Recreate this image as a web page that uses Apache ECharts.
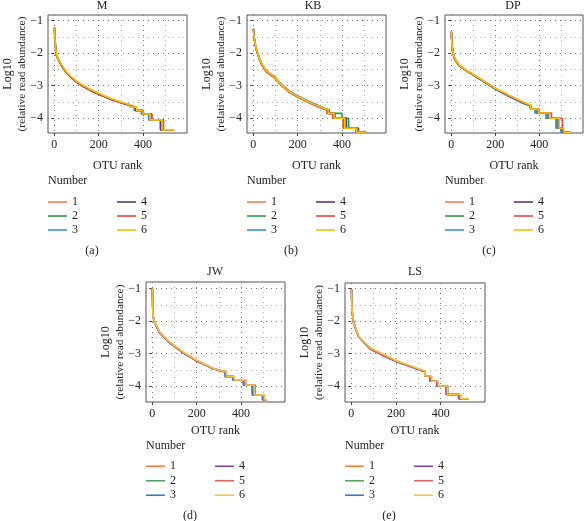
<!DOCTYPE html>
<html><head><meta charset="utf-8">
<script src="https://cdn.jsdelivr.net/npm/echarts@6/dist/echarts.min.js"></script>
<style>html,body{margin:0;padding:0;background:#fff}#c{width:584px;height:521px}</style>
</head><body><div id="c"></div>
<script>
const FONT = 'Liberation Serif';
const seriesNames = ['1','2','3','4','5','6'];
const panelTitles = ['M','KB','DP','JW','LS'];
const captions = ['(a)','(b)','(c)','(d)','(e)'];
const xTickValues = [0,200,400];
const xMinorValues = [100,300,500];
const yTickValues = [-4,-3,-2,-1];
const yMinorValues = [-4.5,-3.5,-2.5,-1.5];
const colorsTop = ['#F07D4E','#2F9B45','#3D8BDD','#5A3C7C','#E6453B','#F6C400'];
const colorsBottom = ['#F47E32','#55A364','#3F72C9','#8645A3','#E26566','#F2C443'];

// ---- Panel M ----
const M_rank = [1,3,6,10,20,35,55,80,100,130,160,200,250,300,340];
const M_v1 = [-1.21,-1.52,-1.85,-2.07,-2.21,-2.40,-2.58,-2.75,-2.87,-3.00,-3.11,-3.24,-3.39,-3.51,-3.59];
const M_v2 = [-1.22,-1.49,-1.80,-2.05,-2.21,-2.39,-2.59,-2.76,-2.87,-3.01,-3.12,-3.25,-3.39,-3.52,-3.59];
const M_v3 = [-1.19,-1.51,-1.83,-2.07,-2.22,-2.40,-2.60,-2.77,-2.89,-3.02,-3.13,-3.26,-3.41,-3.53,-3.60];
const M_v4 = [-1.21,-1.53,-1.84,-2.08,-2.22,-2.41,-2.60,-2.76,-2.88,-3.02,-3.13,-3.26,-3.40,-3.52,-3.59];
const M_v5 = [-1.20,-1.51,-1.83,-2.07,-2.21,-2.40,-2.59,-2.76,-2.88,-3.01,-3.12,-3.25,-3.40,-3.52,-3.60];
const M_v6 = [-1.20,-1.50,-1.82,-2.06,-2.20,-2.38,-2.57,-2.74,-2.86,-2.99,-3.10,-3.23,-3.38,-3.50,-3.58];
const M_levels = [-3.66,-3.76,-3.87,-4.05,-4.36];
const M_d1 = [368,395,428,490,538];
const M_d2 = [365,400,435,488,536];
const M_d3 = [360,392,425,480,534];
const M_d4 = [366,396,438,478,537];
const M_d5 = [370,402,440,492,541];
const M_d6 = [372,398,432,486,540];

// ---- Panel KB ----
const KB_rank = [1,5,10,18,30,41,60,94,125,162,200,245,290,320];
const KB_v1 = [-1.26,-1.56,-1.76,-1.96,-2.21,-2.37,-2.56,-2.73,-2.97,-3.19,-3.34,-3.49,-3.63,-3.71];
const KB_v2 = [-1.24,-1.54,-1.77,-1.97,-2.22,-2.38,-2.57,-2.70,-2.95,-3.17,-3.32,-3.47,-3.61,-3.70];
const KB_v3 = [-1.25,-1.57,-1.78,-1.96,-2.20,-2.36,-2.54,-2.71,-2.94,-3.16,-3.31,-3.46,-3.60,-3.69];
const KB_v4 = [-1.27,-1.55,-1.76,-1.97,-2.21,-2.38,-2.56,-2.74,-2.97,-3.19,-3.34,-3.49,-3.63,-3.72];
const KB_v5 = [-1.26,-1.56,-1.77,-1.98,-2.23,-2.39,-2.58,-2.75,-2.98,-3.20,-3.35,-3.50,-3.64,-3.72];
const KB_v6 = [-1.25,-1.55,-1.75,-1.95,-2.20,-2.36,-2.55,-2.72,-2.96,-3.18,-3.33,-3.48,-3.62,-3.70];
const KB_levels = [-3.74,-3.85,-4.00,-4.31,-4.43];
const KB_d1 = [336,362,418,470,504];
const KB_d2 = [342,400,430,472,508];
const KB_d3 = [334,360,408,462,500];
const KB_d4 = [340,368,420,474,505];
const KB_d5 = [332,358,405,468,503];
const KB_d6 = [338,365,412,466,506];

// ---- Panel DP ----
const DP_rank = [1,3,7,15,35,80,141,201,262,322,360];
const DP_v1 = [-1.35,-1.66,-1.96,-2.16,-2.37,-2.58,-2.83,-3.09,-3.30,-3.50,-3.61];
const DP_v2 = [-1.33,-1.64,-1.94,-2.15,-2.37,-2.58,-2.84,-3.10,-3.32,-3.52,-3.62];
const DP_v3 = [-1.34,-1.66,-1.96,-2.17,-2.38,-2.59,-2.85,-3.11,-3.33,-3.53,-3.63];
const DP_v4 = [-1.35,-1.65,-1.95,-2.16,-2.37,-2.58,-2.83,-3.09,-3.31,-3.51,-3.62];
const DP_v5 = [-1.34,-1.65,-1.96,-2.16,-2.37,-2.58,-2.83,-3.09,-3.30,-3.50,-3.61];
const DP_v6 = [-1.34,-1.65,-1.95,-2.15,-2.36,-2.57,-2.82,-3.08,-3.29,-3.49,-3.60];
const DP_levels = [-3.72,-3.84,-4.00,-4.31,-4.43];
const DP_d1 = [390,440,485,505,540];
const DP_d2 = [385,435,480,500,538];
const DP_d3 = [380,430,475,498,536];
const DP_d4 = [392,442,488,506,539];
const DP_d5 = [398,455,505,512,541];
const DP_d6 = [395,445,490,510,542];

// ---- Panel JW ----
const JW_rank = [1,3,10,33,78,139,200,275,310];
const JW_v1 = [-1.00,-1.83,-2.03,-2.34,-2.65,-2.96,-3.21,-3.46,-3.53];
const JW_v2 = [-1.01,-1.81,-2.02,-2.35,-2.66,-2.97,-3.22,-3.47,-3.54];
const JW_v3 = [-1.00,-1.82,-2.04,-2.36,-2.67,-2.98,-3.23,-3.47,-3.54];
const JW_v4 = [-1.01,-1.83,-2.03,-2.35,-2.66,-2.97,-3.22,-3.46,-3.53];
const JW_v5 = [-1.00,-1.82,-2.03,-2.35,-2.66,-2.97,-3.22,-3.47,-3.54];
const JW_v6 = [-1.00,-1.82,-2.02,-2.33,-2.64,-2.95,-3.20,-3.45,-3.52];
const JW_levels = [-3.56,-3.71,-3.81,-3.97,-4.27,-4.42];
const JW_d1 = [332,366,416,456,500,515];
const JW_d2 = [330,364,414,452,498,514];
const JW_d3 = [328,362,410,450,496,512];
const JW_d4 = [333,368,418,462,502,516];
const JW_d5 = [334,369,422,464,504,517];
const JW_d6 = [335,370,420,460,505,518];

// ---- Panel LS ----
const LS_rank = [1,3,11,33,86,147,208,268,329];
const LS_v1 = [-1.03,-1.66,-2.07,-2.48,-2.85,-3.05,-3.25,-3.39,-3.55];
const LS_v2 = [-1.04,-1.65,-2.06,-2.48,-2.84,-3.04,-3.25,-3.40,-3.55];
const LS_v3 = [-1.03,-1.67,-2.08,-2.49,-2.86,-3.06,-3.26,-3.40,-3.56];
const LS_v4 = [-1.03,-1.66,-2.07,-2.49,-2.87,-3.08,-3.27,-3.41,-3.56];
const LS_v5 = [-1.04,-1.66,-2.07,-2.48,-2.86,-3.07,-3.26,-3.40,-3.55];
const LS_v6 = [-1.03,-1.65,-2.06,-2.47,-2.83,-3.03,-3.24,-3.38,-3.54];
const LS_levels = [-3.69,-3.85,-4.00,-4.26,-4.39];
const LS_d1 = [356,386,428,486,524];
const LS_d2 = [358,388,432,488,525];
const LS_d3 = [354,384,426,482,522];
const LS_d4 = [352,382,424,480,520];
const LS_d5 = [355,385,430,484,523];
const LS_d6 = [360,390,430,490,526];

const panels = [
  {rank:M_rank, vals:[M_v1,M_v2,M_v3,M_v4,M_v5,M_v6], levels:M_levels, drops:[M_d1,M_d2,M_d3,M_d4,M_d5,M_d6]},
  {rank:KB_rank, vals:[KB_v1,KB_v2,KB_v3,KB_v4,KB_v5,KB_v6], levels:KB_levels, drops:[KB_d1,KB_d2,KB_d3,KB_d4,KB_d5,KB_d6]},
  {rank:DP_rank, vals:[DP_v1,DP_v2,DP_v3,DP_v4,DP_v5,DP_v6], levels:DP_levels, drops:[DP_d1,DP_d2,DP_d3,DP_d4,DP_d5,DP_d6]},
  {rank:JW_rank, vals:[JW_v1,JW_v2,JW_v3,JW_v4,JW_v5,JW_v6], levels:JW_levels, drops:[JW_d1,JW_d2,JW_d3,JW_d4,JW_d5,JW_d6]},
  {rank:LS_rank, vals:[LS_v1,LS_v2,LS_v3,LS_v4,LS_v5,LS_v6], levels:LS_levels, drops:[LS_d1,LS_d2,LS_d3,LS_d4,LS_d5,LS_d6]}
];

// layout (pixels)
const boxes = [
  {l:48, t:15, w:139, h:118, ymin:-4.455, ymax:-0.825},
  {l:247, t:15, w:139, h:118, ymin:-4.455, ymax:-0.825},
  {l:445, t:15, w:138, h:118, ymin:-4.455, ymax:-0.825},
  {l:146, t:282, w:139, h:120, ymin:-4.49, ymax:-0.80},
  {l:345, t:283, w:140, h:119, ymin:-4.49, ymax:-0.83}
];
const titleX = [102, 313, 513, 215, 415];
const XMIN = -28, XMAX = 598;

function buildLine(rank, vals, levels, drops) {
  const pts = rank.map((r, i) => [r, vals[i]]);
  let start = rank[rank.length - 1];
  levels.forEach((L, i) => { pts.push([start, L]); pts.push([drops[i], L]); start = drops[i]; });
  return pts;
}
const minusFmt = v => (v < 0 ? '\u2212' + (-v) : String(v));
const txt = {fontFamily: FONT, fontSize: 12, color: '#222'};

const grid = [], xAxis = [], yAxis = [], series = [], legend = [], graphic = [];
boxes.forEach((b, p) => {
  grid.push({left: b.l, top: b.t, width: b.w, height: b.h, show: true, borderColor: '#555', borderWidth: 1, backgroundColor: 'transparent'});
  xAxis.push({type: 'value', gridIndex: p, min: XMIN, max: XMAX,
    axisLine: {show: false},
    axisTick: {show: true, length: 3, customValues: xTickValues, lineStyle: {color: '#444'}},
    axisLabel: {customValues: xTickValues, margin: 6, ...txt},
    splitLine: {show: true, lineStyle: {color: '#777', width: 1, type: [1, 4]}}});
  yAxis.push({type: 'value', gridIndex: p, min: b.ymin, max: b.ymax,
    axisLine: {show: false},
    axisTick: {show: true, length: 3, customValues: yTickValues, lineStyle: {color: '#444'}},
    axisLabel: {customValues: yTickValues, margin: 5, formatter: minusFmt, ...txt},
    splitLine: {show: true, lineStyle: {color: '#777', width: 1, type: [1, 4]}}});
  xAxis.push({type: 'value', gridIndex: p, min: XMIN, max: XMAX,
    axisLine: {show: false}, axisLabel: {show: false},
    axisTick: {show: false, customValues: xMinorValues},
    splitLine: {show: true, lineStyle: {color: '#aaa', width: 1, type: [1, 4]}}});
  yAxis.push({type: 'value', gridIndex: p, min: b.ymin, max: b.ymax,
    axisLine: {show: false}, axisLabel: {show: false},
    axisTick: {show: false, customValues: yMinorValues},
    splitLine: {show: true, lineStyle: {color: '#aaa', width: 1, type: [1, 4]}}});

  const pal = p < 3 ? colorsTop : colorsBottom;
  const P = panels[p];
  seriesNames.forEach((nm, s) => {
    series.push({type: 'line', name: nm, xAxisIndex: 2 * p, yAxisIndex: 2 * p,
      data: buildLine(P.rank, P.vals[s], P.levels, P.drops[s]),
      showSymbol: false, symbol: 'none', silent: true, animation: false,
      lineStyle: {width: 1.6, color: pal[s]}, itemStyle: {color: pal[s]}, z: 2 + s});
  });

  const top = p < 3 ? 195 : 459;
  const rowH = p < 3 ? 14 : 14.5;
  [0, 1].forEach(c => {
    legend.push({left: b.l + c * 69, top: top, orient: 'vertical', padding: 0, itemGap: 0,
      itemWidth: 19, itemHeight: 1.6, icon: 'rect', itemTextGap: 7, selectedMode: false,
      textStyle: {...txt, lineHeight: rowH},
      data: seriesNames.slice(c * 3, c * 3 + 3).map((nm, k) => ({name: nm, itemStyle: {color: pal[c * 3 + k]}}))});
  });

  const cx = b.l + b.w / 2, cy = b.t + b.h / 2;
  const tY = p < 3 ? 6 : 272;
  graphic.push({type: 'text', x: titleX[p], y: tY, style: {text: panelTitles[p], align: 'center', verticalAlign: 'middle', font: '12px ' + FONT, fill: '#222'}});
  graphic.push({type: 'text', x: cx, y: b.t + b.h + (p < 3 ? 32.5 : 29), style: {text: 'OTU rank', align: 'center', verticalAlign: 'middle', font: '12px ' + FONT, fill: '#222'}});
  graphic.push({type: 'text', x: b.l - 40, y: cy, rotation: Math.PI / 2, style: {text: 'Log10', align: 'center', verticalAlign: 'middle', font: '12px ' + FONT, fill: '#222'}});
  graphic.push({type: 'text', x: b.l - 26, y: cy, rotation: Math.PI / 2, style: {text: '(relative read abundance)', align: 'center', verticalAlign: 'middle', font: '11.3px ' + FONT, fill: '#222'}});
  graphic.push({type: 'text', x: b.l, y: p < 3 ? 181 : 446, style: {text: 'Number', align: 'left', verticalAlign: 'middle', font: '12px ' + FONT, fill: '#222'}});
  graphic.push({type: 'text', x: b.l + 44, y: p < 3 ? 251 : 516, style: {text: captions[p], align: 'center', verticalAlign: 'middle', font: '12px ' + FONT, fill: '#222'}});
});

const chart = echarts.init(document.getElementById('c'), null, {renderer: 'canvas'});
chart.setOption({animation: false, backgroundColor: '#fff', grid, xAxis, yAxis, series, legend, graphic});
</script></body></html>
